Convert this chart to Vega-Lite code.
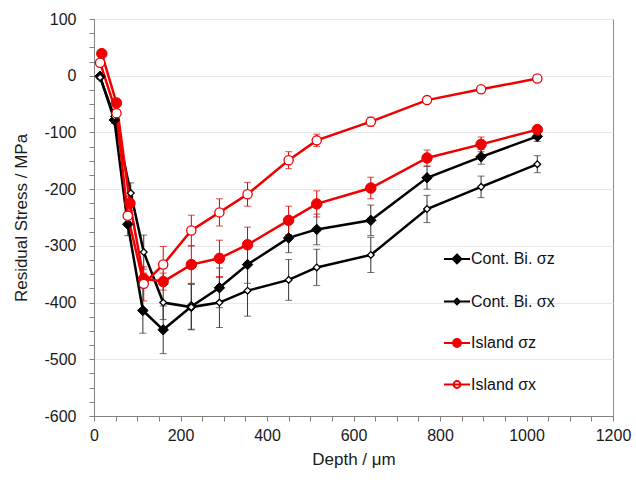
{
  "$schema": "https://vega.github.io/schema/vega-lite/v6.json",
  "width": 519,
  "height": 397,
  "autosize": "none",
  "padding": {"left": 94, "top": 19, "right": 23, "bottom": 68},
  "background": "white",
  "config": {"font": "Liberation Sans", "view": {"stroke": "#8c8c8c", "strokeWidth": 1}},
  "data": {"values": [
    {"series": "Cont. Bi. σz", "depth": 14, "stress": -1, "err": 3},
    {"series": "Cont. Bi. σz", "depth": 47, "stress": -78, "err": 6},
    {"series": "Cont. Bi. σz", "depth": 78, "stress": -262, "err": 20},
    {"series": "Cont. Bi. σz", "depth": 113, "stress": -414, "err": 40},
    {"series": "Cont. Bi. σz", "depth": 160, "stress": -448, "err": 42},
    {"series": "Cont. Bi. σz", "depth": 225, "stress": -407, "err": 40},
    {"series": "Cont. Bi. σz", "depth": 290, "stress": -374, "err": 35},
    {"series": "Cont. Bi. σz", "depth": 355, "stress": -333, "err": 33},
    {"series": "Cont. Bi. σz", "depth": 450, "stress": -286, "err": 26},
    {"series": "Cont. Bi. σz", "depth": 515, "stress": -271, "err": 27},
    {"series": "Cont. Bi. σz", "depth": 640, "stress": -255, "err": 27},
    {"series": "Cont. Bi. σz", "depth": 770, "stress": -180, "err": 20},
    {"series": "Cont. Bi. σz", "depth": 895, "stress": -143, "err": 13},
    {"series": "Cont. Bi. σz", "depth": 1025, "stress": -107, "err": 9},
    {"series": "Cont. Bi. σx", "depth": 14, "stress": -3, "err": 3},
    {"series": "Cont. Bi. σx", "depth": 47, "stress": -72, "err": 6},
    {"series": "Cont. Bi. σx", "depth": 85, "stress": -207, "err": 18},
    {"series": "Cont. Bi. σx", "depth": 115, "stress": -311, "err": 30},
    {"series": "Cont. Bi. σx", "depth": 160, "stress": -400, "err": 30},
    {"series": "Cont. Bi. σx", "depth": 225, "stress": -408, "err": 40},
    {"series": "Cont. Bi. σx", "depth": 290, "stress": -400, "err": 44},
    {"series": "Cont. Bi. σx", "depth": 355, "stress": -379, "err": 45},
    {"series": "Cont. Bi. σx", "depth": 450, "stress": -360, "err": 36},
    {"series": "Cont. Bi. σx", "depth": 515, "stress": -338, "err": 32},
    {"series": "Cont. Bi. σx", "depth": 640, "stress": -316, "err": 31},
    {"series": "Cont. Bi. σx", "depth": 770, "stress": -235, "err": 24},
    {"series": "Cont. Bi. σx", "depth": 895, "stress": -196, "err": 19},
    {"series": "Cont. Bi. σx", "depth": 1025, "stress": -156, "err": 15},
    {"series": "Island σz", "depth": 18, "stress": 39, "err": 4},
    {"series": "Island σz", "depth": 52, "stress": -48, "err": 6},
    {"series": "Island σz", "depth": 83, "stress": -225, "err": 12},
    {"series": "Island σz", "depth": 115, "stress": -358, "err": 10},
    {"series": "Island σz", "depth": 160, "stress": -363, "err": 15},
    {"series": "Island σz", "depth": 225, "stress": -333, "err": 33},
    {"series": "Island σz", "depth": 290, "stress": -322, "err": 32},
    {"series": "Island σz", "depth": 355, "stress": -298, "err": 31},
    {"series": "Island σz", "depth": 450, "stress": -255, "err": 25},
    {"series": "Island σz", "depth": 515, "stress": -226, "err": 23},
    {"series": "Island σz", "depth": 640, "stress": -198, "err": 19},
    {"series": "Island σz", "depth": 770, "stress": -145, "err": 14},
    {"series": "Island σz", "depth": 895, "stress": -121, "err": 13},
    {"series": "Island σz", "depth": 1025, "stress": -95, "err": 7},
    {"series": "Island σx", "depth": 14, "stress": 23, "err": 4},
    {"series": "Island σx", "depth": 52, "stress": -66, "err": 6},
    {"series": "Island σx", "depth": 78, "stress": -247, "err": 15},
    {"series": "Island σx", "depth": 115, "stress": -367, "err": 30},
    {"series": "Island σx", "depth": 160, "stress": -333, "err": 32},
    {"series": "Island σx", "depth": 225, "stress": -273, "err": 27},
    {"series": "Island σx", "depth": 290, "stress": -241, "err": 24},
    {"series": "Island σx", "depth": 355, "stress": -209, "err": 21},
    {"series": "Island σx", "depth": 450, "stress": -149, "err": 15},
    {"series": "Island σx", "depth": 515, "stress": -114, "err": 11},
    {"series": "Island σx", "depth": 640, "stress": -81, "err": 8},
    {"series": "Island σx", "depth": 770, "stress": -43, "err": 4},
    {"series": "Island σx", "depth": 895, "stress": -24, "err": 3},
    {"series": "Island σx", "depth": 1025, "stress": -5, "err": 2}
  ]},
  "encoding": {
    "x": {
      "field": "depth", "type": "quantitative",
      "scale": {"domain": [0, 1200], "nice": false},
      "axis": {
        "title": "Depth / μm",
        "values": [0, 50, 100, 150, 200, 250, 300, 350, 400, 450, 500, 550, 600, 650, 700, 750, 800, 850, 900, 950, 1000, 1050, 1100, 1150, 1200],
        "labelExpr": "datum.value % 200 === 0 ? '' + datum.value : ''",
        "grid": false, "labelOverlap": false, "labelFlush": false,
        "domainColor": "#808080", "tickColor": "#808080", "tickSize": 5,
        "labelFontSize": 16, "labelColor": "#1a1a1a", "labelPadding": 6,
        "titleFontSize": 17, "titleFontWeight": "normal", "titleColor": "#1a1a1a", "titlePadding": 8
      }
    },
    "y": {
      "field": "stress", "type": "quantitative",
      "scale": {"domain": [-600, 100], "nice": false},
      "axis": {
        "title": "Residual Stress / MPa",
        "values": [-600, -575, -550, -525, -500, -475, -450, -425, -400, -375, -350, -325, -300, -275, -250, -225, -200, -175, -150, -125, -100, -75, -50, -25, 0, 25, 50, 75, 100],
        "labelExpr": "datum.value % 100 === 0 ? '' + datum.value : ''",
        "grid": true, "gridColor": "#e8e8e8",
        "gridOpacity": {"condition": {"test": "datum.value % 100 !== 0", "value": 0}, "value": 1},
        "labelOverlap": false, "labelFlush": false,
        "domainColor": "#808080", "tickColor": "#808080", "tickSize": 5,
        "labelFontSize": 16, "labelColor": "#1a1a1a", "labelPadding": 13,
        "titleFontSize": 17, "titleFontWeight": "normal", "titleColor": "#1a1a1a", "titlePadding": 13
      }
    }
  },
  "layer": [
    {
      "transform": [{"filter": "indexof(datum.series, 'Cont') === 0"}],
      "mark": {"type": "errorbar", "ticks": {"size": 7}, "thickness": 1, "color": "#333333"},
      "encoding": {"yError": {"field": "err"}, "detail": {"field": "series"}}
    },
    {
      "transform": [{"filter": "indexof(datum.series, 'Island') === 0"}],
      "mark": {"type": "errorbar", "ticks": {"size": 7}, "thickness": 1, "color": "#d40000"},
      "encoding": {"yError": {"field": "err"}, "detail": {"field": "series"}}
    },
    {
      "transform": [{"filter": "indexof(datum.series, 'Cont') === 0"}],
      "mark": {"type": "line", "strokeWidth": 2.5, "color": "#000000"},
      "encoding": {"detail": {"field": "series"}}
    },
    {
      "transform": [{"filter": "indexof(datum.series, 'Island') === 0"}],
      "mark": {"type": "line", "strokeWidth": 2.5, "color": "#f00000"},
      "encoding": {"detail": {"field": "series"}}
    },
    {
      "transform": [{"filter": "datum.series === 'Cont. Bi. σz'"}],
      "mark": {"type": "point", "shape": "diamond", "size": 110, "filled": true, "fill": "#000000", "stroke": "#000000", "strokeWidth": 1, "opacity": 1}
    },
    {
      "transform": [{"filter": "datum.series === 'Cont. Bi. σx'"}],
      "mark": {"type": "point", "shape": "diamond", "size": 45, "filled": false, "fill": "#ffffff", "stroke": "#000000", "strokeWidth": 1.3, "opacity": 1}
    },
    {
      "transform": [{"filter": "datum.series === 'Island σz'"}],
      "mark": {"type": "point", "shape": "circle", "size": 110, "filled": true, "fill": "#f00000", "stroke": "#f00000", "strokeWidth": 1, "opacity": 1}
    },
    {
      "transform": [{"filter": "datum.series === 'Island σx'"}],
      "mark": {"type": "point", "shape": "circle", "size": 85, "filled": false, "fill": "#ffffff", "stroke": "#f00000", "strokeWidth": 1.3, "opacity": 1}
    },
    {
      "mark": {"type": "point", "filled": false, "strokeWidth": 2, "size": 0, "opacity": 1},
      "encoding": {
        "color": {"field": "series", "type": "nominal",
          "scale": {"domain": ["Cont. Bi. σz", "Cont. Bi. σx", "Island σz", "Island σx"], "range": ["#000000", "#000000", "#f00000", "#f00000"]},
          "legend": {"title": null, "orient": "none", "legendX": 349, "legendY": 226, "padding": 0, "labelFontSize": 16, "labelColor": "#111111", "symbolSize": 676, "symbolStrokeWidth": 2, "symbolOpacity": 1, "rowPadding": 19.5, "labelOffset": 0}},
        "fill": {"field": "series", "type": "nominal",
          "scale": {"domain": ["Cont. Bi. σz", "Cont. Bi. σx", "Island σz", "Island σx"], "range": ["#000000", "#ffffff", "#f00000", "#ffffff"]},
          "legend": {"title": null, "orient": "none", "legendX": 349, "legendY": 226, "padding": 0, "labelFontSize": 16, "labelColor": "#111111", "symbolSize": 676, "symbolStrokeWidth": 2, "symbolOpacity": 1, "rowPadding": 19.5, "labelOffset": 0}},
        "shape": {"field": "series", "type": "nominal",
          "scale": {"domain": ["Cont. Bi. σz", "Cont. Bi. σx", "Island σz", "Island σx"],
            "range": ["M-1,0H1M0,-0.34L0.34,0L0,0.34L-0.34,0Z", "M-1,0H1M0,-0.22L0.22,0L0,0.22L-0.22,0Z", "M-1,0H1M0.3,0A0.3,0.3,0,1,1,-0.3,0A0.3,0.3,0,1,1,0.3,0Z", "M-1,0H1M0.26,0A0.26,0.26,0,1,1,-0.26,0A0.26,0.26,0,1,1,0.26,0Z"]},
          "legend": {"title": null, "orient": "none", "legendX": 349, "legendY": 226, "padding": 0, "labelFontSize": 16, "labelColor": "#111111", "symbolSize": 676, "symbolStrokeWidth": 2, "symbolOpacity": 1, "rowPadding": 19.5, "labelOffset": 0}}
      }
    }
  ]
}
